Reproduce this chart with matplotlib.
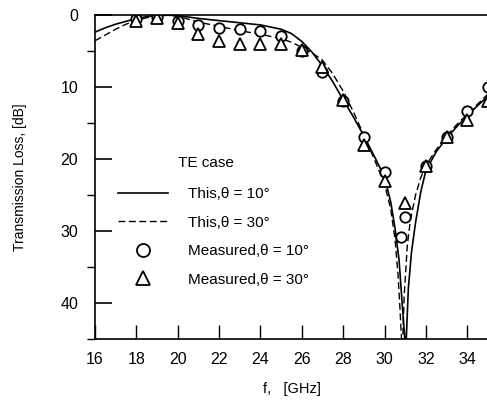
import matplotlib
matplotlib.use("Agg")
import matplotlib.pyplot as plt
from matplotlib.ticker import MultipleLocator

plt.rcParams["font.family"] = ["Liberation Sans", "DejaVu Sans"]

# ------------------------- data -------------------------
# calculated curve, theta = 10 deg
f_10 = [16, 16.5, 17, 17.5, 18, 18.5, 19, 19.5, 20, 20.5, 21, 22, 23, 24, 25, 25.5,
        26, 26.5, 27, 27.5, 28, 28.5, 29, 29.5, 30, 30.3, 30.5, 30.7, 30.85, 30.98,
        31.05, 31.15, 31.3, 31.5, 31.75, 32, 32.5, 33, 33.5, 34, 34.5, 35]
tl_10 = [2.4, 1.8, 1.3, 0.9, 0.5, 0.25, 0.1, 0.05, 0.1, 0.3, 0.5, 0.8, 1.1, 1.4, 2.0, 2.6,
         3.7, 5.2, 7.1, 9.3, 11.8, 14.2, 16.8, 19.6, 22.5, 26.0, 29.5, 34.0, 40.0, 45.0,
         45.0, 38.0, 33.0, 28.8, 24.6, 21.6, 19.0, 17.1, 15.5, 14.0, 12.6, 11.3]

# calculated curve, theta = 30 deg
f_30 = [16, 16.5, 17, 17.5, 18, 18.5, 19, 19.5, 20, 20.5, 21, 22, 23, 24, 24.5, 25,
        25.5, 26, 26.5, 27, 27.5, 28, 28.5, 29, 29.5, 30, 30.3, 30.5, 30.65, 30.75,
        30.82, 30.88, 30.95, 31.1, 31.25, 31.5, 31.75, 32, 32.5, 33, 33.5, 34, 34.5, 35]
tl_30 = [3.6, 2.8, 2.0, 1.3, 0.8, 0.4, 0.15, 0.05, 0.2, 0.6, 1.0, 1.6, 2.2, 2.7, 3.0, 3.3,
         3.8, 4.5, 5.3, 6.3, 8.2, 10.6, 13.5, 16.7, 20.0, 23.5, 27.0, 31.0, 36.0, 41.0,
         45.0, 45.0, 39.0, 32.0, 28.5, 25.0, 22.6, 20.9, 18.7, 16.8, 15.2, 13.8, 12.4, 11.0]

# measured points
fm_10 = [18, 19, 20, 21, 22, 23, 24, 25, 26, 27, 28, 29, 30, 30.8, 31, 32, 33, 34, 35]
mm_10 = [0.6, 0.3, 0.9, 1.4, 1.8, 2.0, 2.2, 2.9, 5.0, 8.0, 12.0, 16.9, 21.8, 30.9, 28.0,
         21.0, 17.0, 13.4, 10.0]

fm_30 = [18, 19, 20, 21, 22, 23, 24, 25, 26, 27, 28, 29, 30, 31, 32, 33, 34, 35]
mm_30 = [0.8, 0.5, 1.2, 2.6, 3.6, 4.0, 4.0, 4.1, 4.9, 7.2, 11.8, 18.1, 23.1, 26.1,
         21.0, 17.0, 14.6, 12.0]

# ------------------------- plot -------------------------
fig = plt.figure(figsize=(4.87, 4.01), dpi=100)
ax = fig.add_axes([0.195, 0.1546, 0.807, 0.8084])

ax.plot(f_10, tl_10, color="black", lw=1.2, label="This,θ = 10°")
ax.plot(f_30, tl_30, color="black", lw=1.0, ls=(0, (5, 2.5)), label="This,θ = 30°")
ax.plot(fm_10, mm_10, ls="none", marker="o", ms=7.5, mfc="white", mec="black",
        mew=1.3, label="Measured,θ = 10°")
ax.plot(fm_30, mm_30, ls="none", marker="^", ms=8, mfc="white", mec="black",
        mew=1.3, label="Measured,θ = 30°")

ax.set_xlim(16, 35)
ax.set_ylim(45, 0)
ax.xaxis.set_major_locator(MultipleLocator(2))
ax.yaxis.set_major_locator(MultipleLocator(10))
ax.yaxis.set_minor_locator(MultipleLocator(5))
ax.tick_params(axis="both", direction="in", labelsize=11.5)
ax.tick_params(axis="y", which="major", length=12, width=1.2, pad=12)
ax.tick_params(axis="y", which="minor", length=6, width=1.0)
ax.tick_params(axis="x", which="major", length=10, width=1.0, pad=9)
ax.tick_params(top=False, right=False)
ax.spines["right"].set_visible(False)
for s in ["left", "bottom", "top"]:
    ax.spines[s].set_linewidth(1.2)

ax.set_xlabel("f,   [GHz]", fontsize=10.5, labelpad=11)
ax.set_ylabel("Transmission Loss, [dB]", fontsize=10, labelpad=24)

ax.text(20, 20.6, "TE case", fontsize=11, va="center", ha="left")
leg = ax.legend(loc="upper left", bbox_to_anchor=(0.0588, 0.468), frameon=False,
                fontsize=11, markerscale=1.25, handlelength=3.3, handletextpad=1.25,
                labelspacing=0.95, borderaxespad=0, borderpad=0)

fig.savefig("out.png", dpi=100)
